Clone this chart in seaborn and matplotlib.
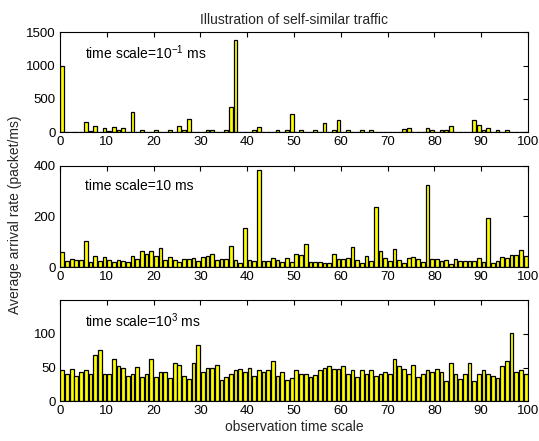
import numpy as np
import pandas as pd
import matplotlib
matplotlib.use("Agg")
import matplotlib.pyplot as plt
import seaborn as sns

# ---------------- data ----------------
obs_index = list(range(100))

# time scale = 0.1 ms (sparse, bursty)
rate_01ms = [0] * 100
_p1 = {0: 1000, 5: 150, 6: 20, 7: 95, 9: 65, 10: 20, 11: 80, 12: 35, 13: 65, 15: 310,
       17: 30, 20: 30, 22: 10, 23: 30, 24: 10, 25: 100, 26: 30, 27: 200, 29: 10, 31: 30,
       32: 30, 33: 10, 35: 30, 36: 380, 37: 1390, 39: 10, 41: 30, 42: 80, 46: 30, 48: 30,
       49: 273, 51: 30, 52: 10, 54: 30, 56: 146, 58: 30, 59: 182, 61: 30, 64: 30, 66: 30,
       69: 10, 71: 5, 72: 5, 73: 45, 74: 65, 78: 65, 79: 30, 81: 30, 82: 30, 83: 96,
       85: 5, 86: 5, 88: 187, 89: 116, 90: 30, 91: 65, 93: 30, 95: 30, 96: 5}
for _k, _v in _p1.items():
    rate_01ms[_k] = _v

# time scale = 10 ms
rate_10ms = [59, 25, 34, 29, 29, 104, 20, 46, 25, 42,
             29, 22, 30, 25, 20, 45, 34, 63, 53, 63,
             45, 76, 29, 42, 29, 22, 32, 34, 37, 25,
             39, 44, 51, 29, 34, 34, 84, 29, 16, 153,
             29, 25, 383, 25, 25, 38, 29, 20, 38, 20,
             54, 50, 93, 20, 20, 20, 16, 16, 54, 34,
             34, 38, 80, 29, 16, 46, 25, 237, 63, 38,
             25, 72, 29, 16, 38, 42, 34, 20, 323, 34,
             34, 25, 29, 12, 34, 25, 25, 25, 25, 38,
             20, 196, 16, 25, 42, 38, 50, 50, 68, 46]

# time scale = 1000 ms
rate_1000ms = [46, 40, 48, 38, 43, 46, 41, 68, 76, 40,
               40, 62, 52, 50, 38, 40, 51, 36, 41, 63,
               36, 43, 43, 35, 56, 54, 38, 33, 57, 84,
               43, 50, 50, 54, 31, 36, 40, 46, 48, 44,
               50, 38, 46, 43, 46, 60, 38, 43, 31, 35,
               46, 41, 41, 36, 39, 47, 50, 52, 48, 48,
               52, 41, 47, 36, 46, 41, 46, 38, 40, 44,
               40, 63, 52, 48, 41, 54, 36, 40, 47, 43,
               48, 44, 30, 57, 40, 33, 41, 57, 30, 40,
               47, 40, 38, 35, 52, 60, 101, 43, 46, 40]

panel_labels = ["time scale=10$^{-1}$ ms", "time scale=10 ms", "time scale=10$^{3}$ ms"]
y_limits = [(0, 1500), (0, 400), (0, 150)]
y_ticks = [[0, 500, 1000, 1500], [0, 200, 400], [0, 50, 100]]
x_ticks = list(range(0, 101, 10))

# ---------------- style ----------------
sns.set_theme(style="white")
plt.rcParams["font.family"] = ["Liberation Sans", "DejaVu Sans"]
plt.rcParams["mathtext.default"] = "regular"

fig = plt.figure(figsize=(5.39, 4.41), dpi=100)
fig.patch.set_facecolor("white")

rects = [
    [0.1113, 0.7000, 0.8683, 0.2268],
    [0.1113, 0.3939, 0.8683, 0.2304],
    [0.1113, 0.0900, 0.8683, 0.2297],
]

series = [rate_01ms, rate_10ms, rate_1000ms]
for i, (vals, rect) in enumerate(zip(series, rects)):
    ax = fig.add_axes(rect)
    df = pd.DataFrame({"pos": np.array(obs_index) + 0.5, "rate": vals})
    sns.barplot(data=df, x="pos", y="rate", native_scale=True, width=0.8,
                color="#FFFF00", saturation=1, edgecolor="black", linewidth=0.9,
                errorbar=None, ax=ax)
    ax.set_xlim(0, 100)
    ax.set_ylim(*y_limits[i])
    ax.set_yticks(y_ticks[i])
    ax.set_xticks(x_ticks)
    ax.set_xlabel("")
    ax.set_ylabel("")
    ax.tick_params(direction="in", top=True, right=True, length=3.5, width=0.8,
                   labelsize=9.5, colors="black", pad=3)
    for sp in ax.spines.values():
        sp.set_color("black")
        sp.set_linewidth(0.8)
    ax.text(5.3, 0.80, panel_labels[i], transform=ax.get_xaxis_transform(),
            fontsize=10, va="center", ha="left", color="black")
    if i == 0:
        ax.set_title("Illustration of self-similar traffic", fontsize=10, pad=6)
    if i == 2:
        ax.set_xlabel("observation time scale", fontsize=10, labelpad=2)

fig.text(0.028, 0.512, "Average arrival rate (packet/ms)", rotation=90,
         ha="center", va="center", fontsize=10)

fig.savefig("out.png", dpi=100, facecolor="white")
